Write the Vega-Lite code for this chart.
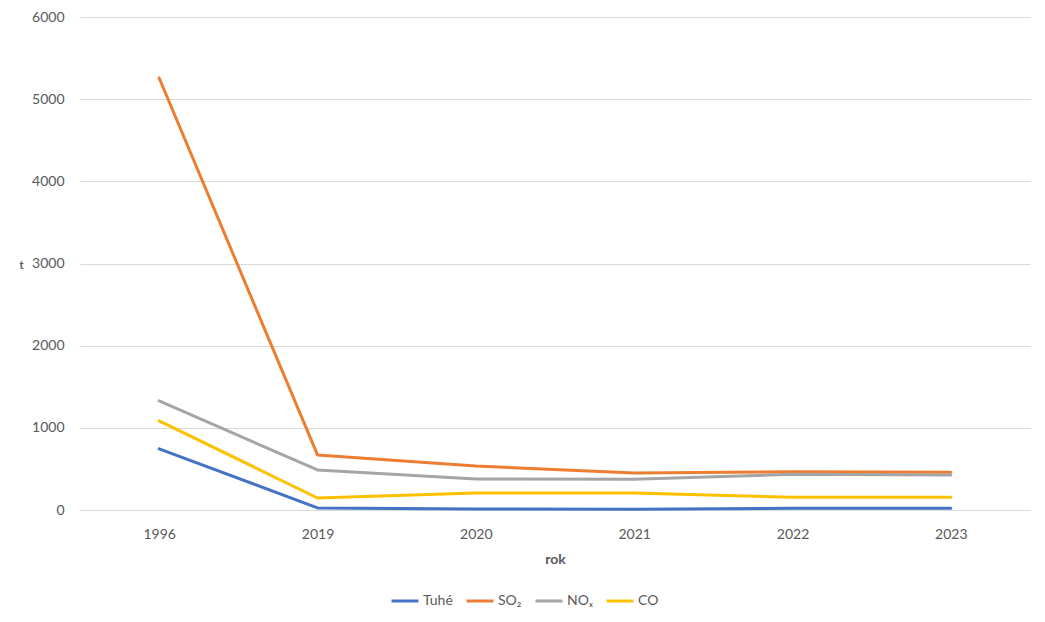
{
  "$schema": "https://vega.github.io/schema/vega-lite/v6.json",
  "width": 950,
  "height": 493,
  "autosize": {"type": "none"},
  "padding": {"left": 80, "top": 17, "right": 15, "bottom": 112},
  "background": "white",
  "config": {
    "font": "Lato",
    "view": {"stroke": null}
  },
  "data": {
    "values": [
      {"rok": "1996", "latka": "Tuhé", "t": 745},
      {"rok": "2019", "latka": "Tuhé", "t": 25},
      {"rok": "2020", "latka": "Tuhé", "t": 12},
      {"rok": "2021", "latka": "Tuhé", "t": 10},
      {"rok": "2022", "latka": "Tuhé", "t": 20},
      {"rok": "2023", "latka": "Tuhé", "t": 20},
      {"rok": "1996", "latka": "SO₂", "t": 5258},
      {"rok": "2019", "latka": "SO₂", "t": 670},
      {"rok": "2020", "latka": "SO₂", "t": 535},
      {"rok": "2021", "latka": "SO₂", "t": 450},
      {"rok": "2022", "latka": "SO₂", "t": 466},
      {"rok": "2023", "latka": "SO₂", "t": 459},
      {"rok": "1996", "latka": "NOₓ", "t": 1328},
      {"rok": "2019", "latka": "NOₓ", "t": 487},
      {"rok": "2020", "latka": "NOₓ", "t": 377},
      {"rok": "2021", "latka": "NOₓ", "t": 375},
      {"rok": "2022", "latka": "NOₓ", "t": 434},
      {"rok": "2023", "latka": "NOₓ", "t": 426},
      {"rok": "1996", "latka": "CO", "t": 1085},
      {"rok": "2019", "latka": "CO", "t": 146},
      {"rok": "2020", "latka": "CO", "t": 207},
      {"rok": "2021", "latka": "CO", "t": 207},
      {"rok": "2022", "latka": "CO", "t": 154},
      {"rok": "2023", "latka": "CO", "t": 154}
    ]
  },
  "mark": {"type": "line", "strokeWidth": 3, "strokeCap": "round", "strokeJoin": "round"},
  "encoding": {
    "x": {
      "field": "rok",
      "type": "ordinal",
      "scale": {"type": "point", "padding": 0.5},
      "axis": {
        "title": "rok",
        "titleFontSize": 14,
        "titleFontWeight": "bold",
        "titleColor": "#595959",
        "titlePadding": 11,
        "labelAngle": 0,
        "labelFontSize": 14,
        "labelColor": "#595959",
        "labelPadding": 17,
        "domain": true,
        "domainColor": "#d9d9d9",
        "ticks": false,
        "grid": false
      }
    },
    "y": {
      "field": "t",
      "type": "quantitative",
      "scale": {"domain": [0, 6000]},
      "axis": {
        "title": "t",
        "titleAngle": 0,
        "titleFontSize": 11,
        "titleFontWeight": "bold",
        "titleColor": "#595959",
        "titleX": -59,
        "titleY": 248,
        "titleAlign": "center",
        "titleBaseline": "middle",
        "values": [0, 1000, 2000, 3000, 4000, 5000, 6000],
        "format": "d",
        "labelFontSize": 14,
        "labelColor": "#595959",
        "labelPadding": 16,
        "domain": false,
        "ticks": false,
        "gridColor": "#d9d9d9",
        "gridWidth": 1
      }
    },
    "color": {
      "field": "latka",
      "type": "nominal",
      "scale": {
        "domain": ["Tuhé", "SO₂", "NOₓ", "CO"],
        "range": ["#4472C4", "#ED7D31", "#A5A5A5", "#FFC000"]
      },
      "legend": {
        "title": null,
        "orient": "none",
        "direction": "horizontal",
        "legendX": 310,
        "legendY": 569,
        "symbolType": "stroke",
        "symbolSize": 729,
        "symbolStrokeWidth": 3,
        "labelFontSize": 14,
        "labelColor": "#595959",
        "labelOffset": 3,
        "columnPadding": 7
      }
    }
  }
}
